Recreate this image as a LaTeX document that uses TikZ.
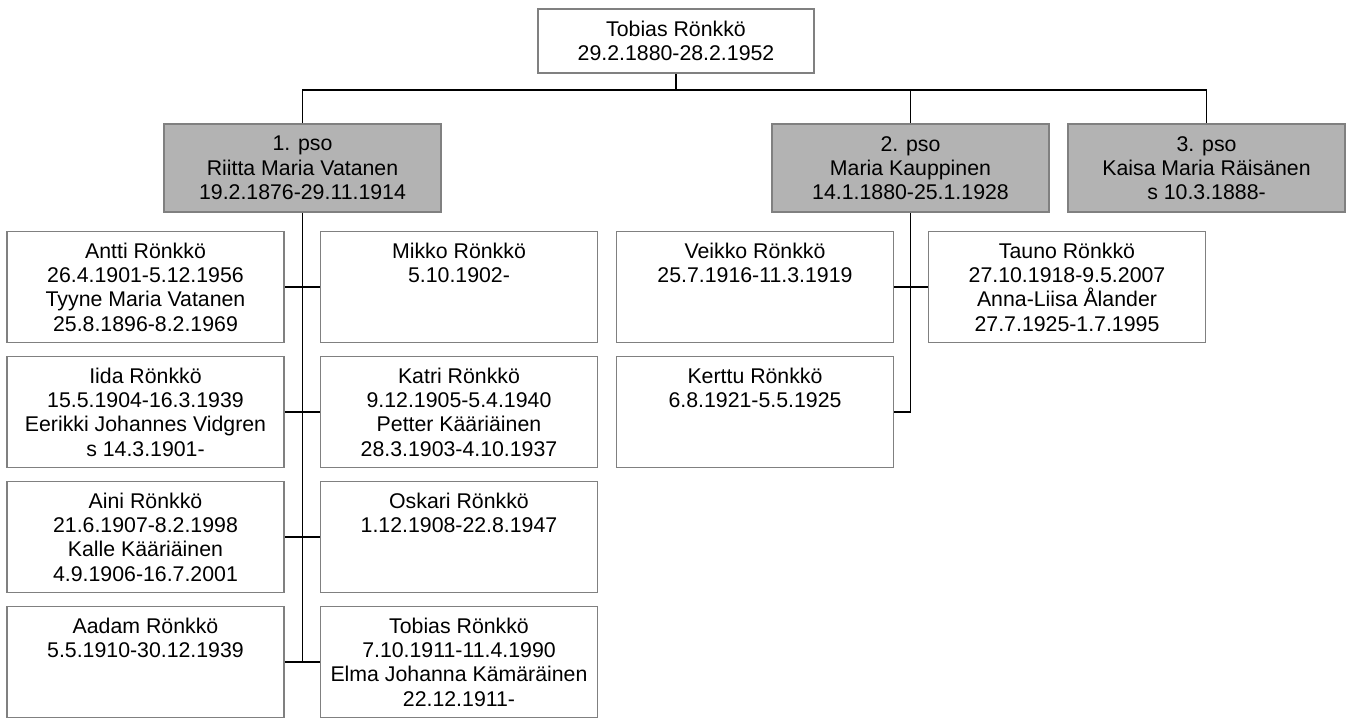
\documentclass[tikz,border=0pt]{standalone}
\usepackage{fontspec}
\setmainfont{Liberation Sans}
\definecolor{boxline}{HTML}{808080}
\definecolor{boxfill}{HTML}{B3B3B3}
\newcommand\kfont{\fontsize{21.3}{24.3}\selectfont}
\newcommand\kidlines[1]{\parbox[t]{270pt}{\centering #1}}
\begin{document}
\begin{tikzpicture}[x=1pt,y=-1pt,
  pbox/.style={draw=boxline, line width=1.6pt, minimum width=277pt, inner sep=0pt},
  topbox/.style={pbox, fill=white, minimum width=276pt, minimum height=64pt, align=center, font=\kfont},
  sposo/.style={pbox, fill=boxfill, minimum height=88pt, align=center, font=\kfont},
  kid/.style={pbox, fill=white, minimum height=111pt},
  kidtxt/.style={anchor=base, inner sep=0pt, font=\kfont},
  conn/.style={draw=black, line width=1.2pt}]
\useasboundingbox (0,0) rectangle (1352,718);
% parents
\node[topbox] (tobias) at (676,41) {Tobias Rönkkö\\29.2.1880-28.2.1952};
\node[sposo] (b1) at (302.5,168) {1. pso\\Riitta Maria Vatanen\\19.2.1876-29.11.1914};
\node[sposo] (b2) at (910.5,168) {2. pso\\Maria Kauppinen\\14.1.1880-25.1.1928};
\node[sposo] (b3) at (1206.5,168) {3. pso\\Kaisa Maria Räisänen\\s 10.3.1888-};
% children boxes
\node[kid] (antti) at (145.5,287) {};
\node[kid] (iida) at (145.5,412) {};
\node[kid] (aini) at (145.5,537) {};
\node[kid] (aadam) at (145.5,662) {};
\node[kid] (mikko) at (459,287) {};
\node[kid] (katri) at (459,412) {};
\node[kid] (oskari) at (459,537) {};
\node[kid] (tobiasj) at (459,662) {};
\node[kid] (veikko) at (755,287) {};
\node[kid] (kerttu) at (755,412) {};
\node[kid] (tauno) at (1067,287) {};
% children texts
\node[kidtxt] (antti-t) at ([yshift=-27.5pt]antti.north) {\kidlines{Antti Rönkkö\\26.4.1901-5.12.1956\\Tyyne Maria Vatanen\\25.8.1896-8.2.1969}};
\node[kidtxt] (iida-t) at ([yshift=-27.5pt]iida.north) {\kidlines{Iida Rönkkö\\15.5.1904-16.3.1939\\Eerikki Johannes Vidgren\\s 14.3.1901-}};
\node[kidtxt] (aini-t) at ([yshift=-27.5pt]aini.north) {\kidlines{Aini Rönkkö\\21.6.1907-8.2.1998\\Kalle Kääriäinen\\4.9.1906-16.7.2001}};
\node[kidtxt] (aadam-t) at ([yshift=-27.5pt]aadam.north) {\kidlines{Aadam Rönkkö\\5.5.1910-30.12.1939}};
\node[kidtxt] (mikko-t) at ([yshift=-27.5pt]mikko.north) {\kidlines{Mikko Rönkkö\\5.10.1902-}};
\node[kidtxt] (katri-t) at ([yshift=-27.5pt]katri.north) {\kidlines{Katri Rönkkö\\9.12.1905-5.4.1940\\Petter Kääriäinen\\28.3.1903-4.10.1937}};
\node[kidtxt] (oskari-t) at ([yshift=-27.5pt]oskari.north) {\kidlines{Oskari Rönkkö\\1.12.1908-22.8.1947}};
\node[kidtxt] (tobiasj-t) at ([yshift=-27.5pt]tobiasj.north) {\kidlines{Tobias Rönkkö\\7.10.1911-11.4.1990\\Elma Johanna Kämäräinen\\22.12.1911-}};
\node[kidtxt] (veikko-t) at ([yshift=-27.5pt]veikko.north) {\kidlines{Veikko Rönkkö\\25.7.1916-11.3.1919}};
\node[kidtxt] (kerttu-t) at ([yshift=-27.5pt]kerttu.north) {\kidlines{Kerttu Rönkkö\\6.8.1921-5.5.1925}};
\node[kidtxt] (tauno-t) at ([yshift=-27.5pt]tauno.north) {\kidlines{Tauno Rönkkö\\27.10.1918-9.5.2007\\Anna-Liisa Ålander\\27.7.1925-1.7.1995}};
% connectors
\coordinate (bus) at (676,90);
\draw[conn] (tobias.south) -- (bus);
\draw[conn] (b1.north) |- (b3.north |- bus) -- (b3.north);
\draw[conn] (b2.north) -- (b2.north |- bus);
\draw[conn] (b1.south) -- (b1.south |- aadam.east);
\draw[conn] (antti.east) -- (mikko.west);
\draw[conn] (iida.east) -- (katri.west);
\draw[conn] (aini.east) -- (oskari.west);
\draw[conn] (aadam.east) -- (tobiasj.west);
\draw[conn] (b2.south) |- (kerttu.east);
\draw[conn] (veikko.east) -- (tauno.west);
\end{tikzpicture}
\end{document}
